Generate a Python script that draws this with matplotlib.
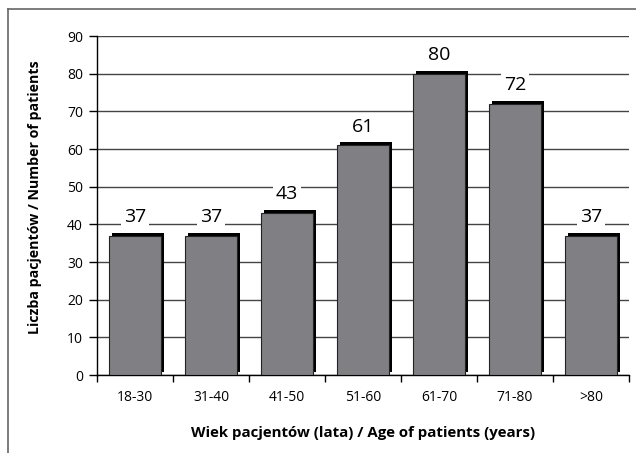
import matplotlib.pyplot as plt
import matplotlib.patheffects as pe
from matplotlib.lines import Line2D

plt.rcParams['font.family'] = ['Open Sans', 'DejaVu Sans']

# Data
age_groups = ['18-30', '31-40', '41-50', '51-60', '61-70', '71-80', '>80']
patients = [37, 37, 43, 61, 80, 72, 37]

fig = plt.figure(figsize=(6.36, 4.53), dpi=100)
ax = fig.add_axes([0.1525, 0.172, 0.8365, 0.7485])

# thin frame around the figure (left and top)
fig.add_artist(Line2D([8 / 636, 8 / 636], [0, 1 - 9 / 453], color='#666666', lw=1.2))
fig.add_artist(Line2D([8 / 636, 1], [1 - 9 / 453, 1 - 9 / 453], color='#666666', lw=1.2))

x = range(len(age_groups))
bars = ax.bar(x, patients, width=0.68, color='#807f84', edgecolor='#222222',
              linewidth=0.8, zorder=3)
for b in bars:
    b.set_path_effects([pe.SimplePatchShadow(offset=(2.2, 2.2), shadow_rgbFace='black', alpha=1.0),
                        pe.Normal()])

for i, v in enumerate(patients):
    ax.annotate(str(v), (i, v), xytext=(0, 7), textcoords='offset points',
                ha='center', va='bottom', fontsize=14, zorder=4,
                bbox=dict(boxstyle='square,pad=0.15', fc='white', ec='none'))

ax.set_xlim(-0.5, len(age_groups) - 0.5)
ax.set_ylim(0, 90)
ax.set_yticks(range(0, 91, 10))
ax.yaxis.grid(True, color='#444444', linewidth=1.0, zorder=0)
ax.set_axisbelow(True)

ax.set_xticks([i + 0.5 for i in range(-1, len(age_groups))], minor=False)
ax.set_xticklabels([])
ax.set_xticks(list(x), minor=True)
ax.set_xticklabels(age_groups, minor=True, fontsize=10)
ax.tick_params(axis='x', which='major', length=5, width=1, direction='out')
ax.tick_params(axis='x', which='minor', length=0, pad=11)
ax.tick_params(axis='y', length=6, width=1, labelsize=10, pad=4)

for s in ['top', 'right']:
    ax.spines[s].set_visible(False)
ax.spines['left'].set_linewidth(1)
ax.spines['bottom'].set_linewidth(1)

ax.set_xlabel('Wiek pacjentów (lata) / Age of patients (years)', fontsize=10.8,
              fontweight='bold', labelpad=15)
ax.set_ylabel('Liczba pacjentów / Number of patients', fontsize=10.2,
              fontweight='bold')
ax.yaxis.set_label_coords(-0.103, 0.525)

fig.savefig('out.png', dpi=100)
